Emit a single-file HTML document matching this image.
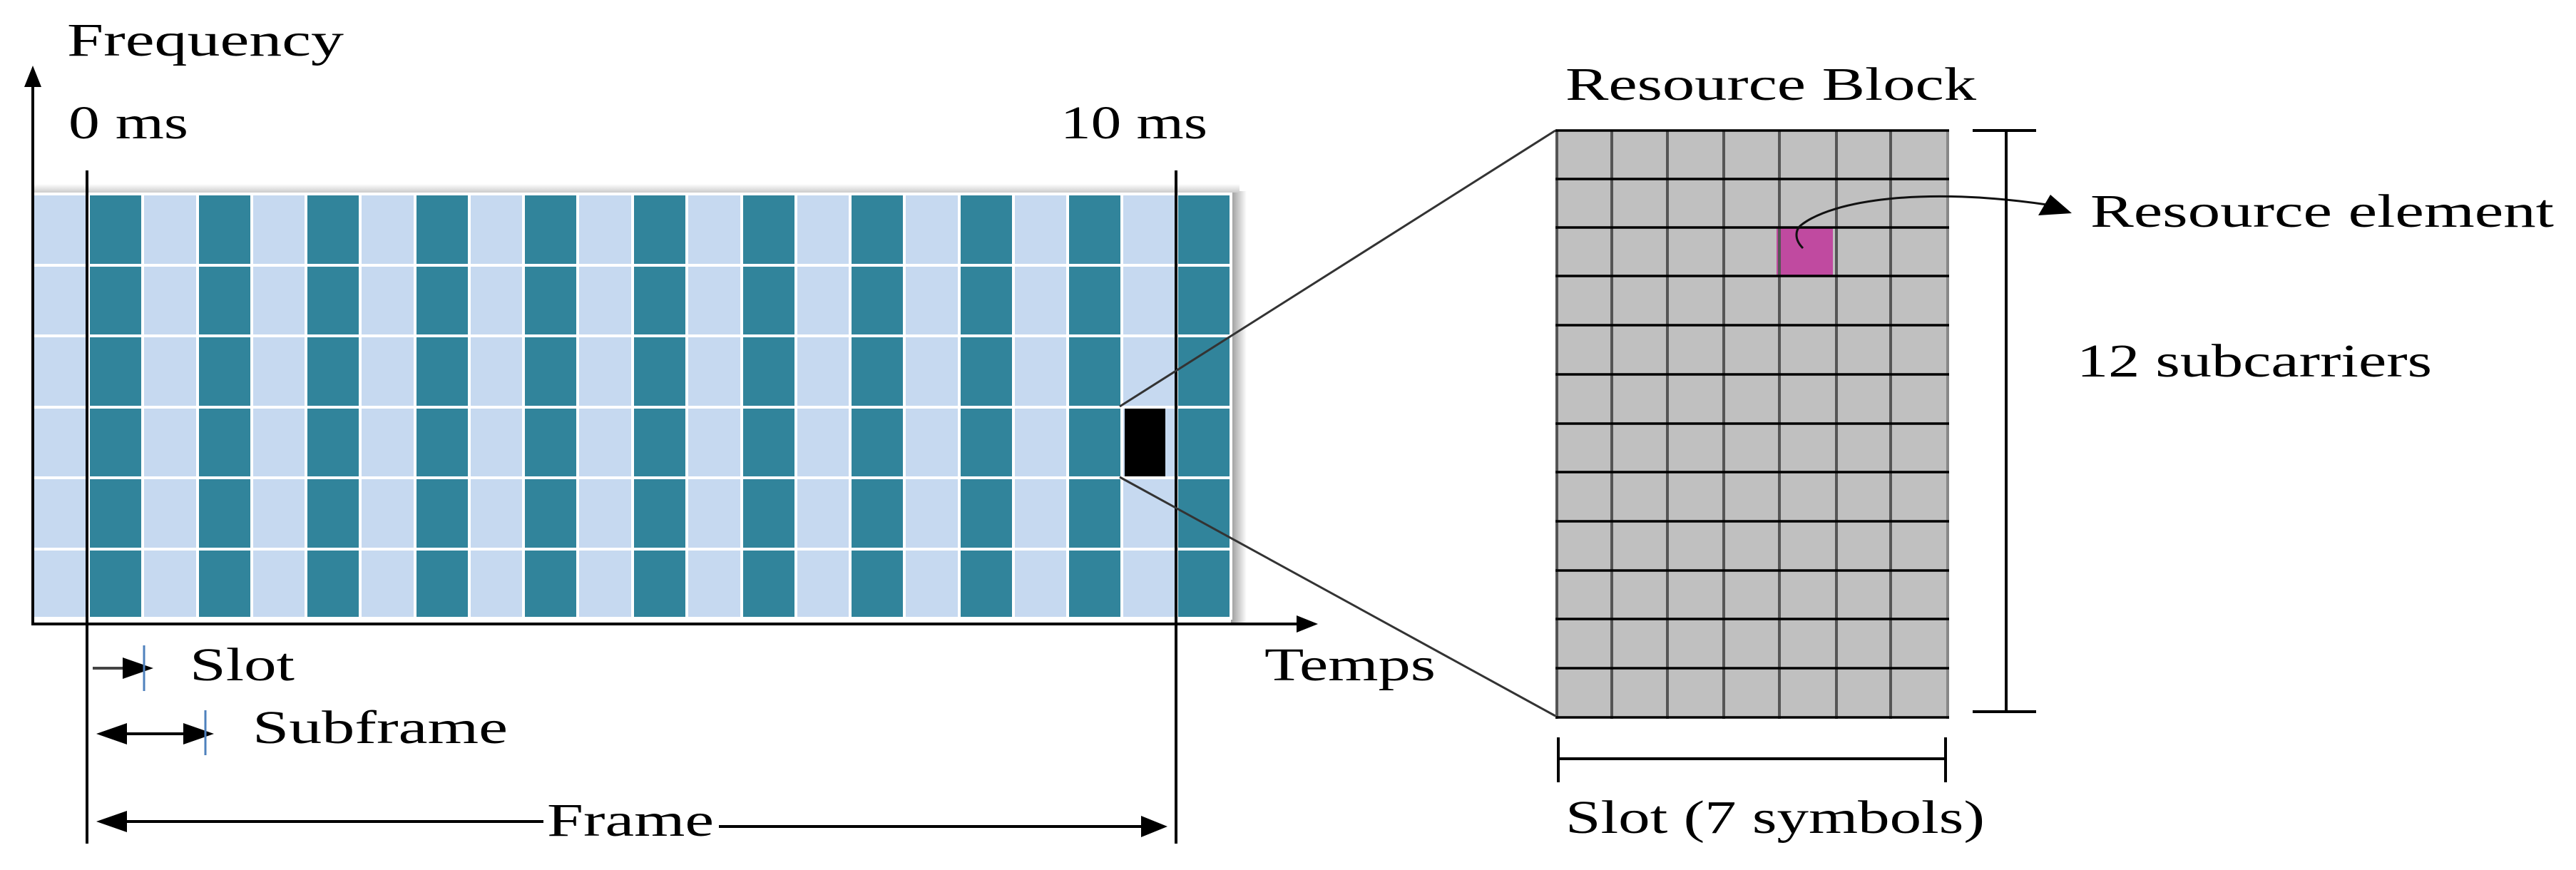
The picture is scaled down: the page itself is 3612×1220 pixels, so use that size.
<!DOCTYPE html>
<html><head><meta charset="utf-8"><style>html,body{margin:0;padding:0;background:#fff}svg{display:block}</style></head>
<body>
<svg width="3612" height="1220" viewBox="0 0 3612 1220" xmlns="http://www.w3.org/2000/svg">
<defs>
<linearGradient id="sh" x1="0" x2="1"><stop offset="0" stop-color="#999"/><stop offset="1" stop-color="#fff"/></linearGradient>
<linearGradient id="sht" x1="0" y1="1" x2="0" y2="0"><stop offset="0" stop-color="#ccc"/><stop offset="1" stop-color="#fff"/></linearGradient>
</defs>
<rect x="1726" y="268" width="22" height="605" fill="url(#sh)"/>
<rect x="48" y="258" width="1690" height="12" fill="url(#sht)"/>
<rect x="48" y="270" width="1678" height="597" fill="#c6d9f0"/>
<g fill="#31849b">
<rect x="124" y="270" width="76" height="597"/><rect x="277" y="270" width="76" height="597"/><rect x="429" y="270" width="76" height="597"/><rect x="582" y="270" width="76" height="597"/><rect x="734" y="270" width="76" height="597"/><rect x="887" y="270" width="76" height="597"/><rect x="1040" y="270" width="76" height="597"/><rect x="1192" y="270" width="76" height="597"/><rect x="1345" y="270" width="76" height="597"/><rect x="1497" y="270" width="76" height="597"/><rect x="1650" y="270" width="76" height="597"/>
</g>
<g stroke="#fff" stroke-width="4">
<line x1="124" y1="270" x2="124" y2="867"/><line x1="200" y1="270" x2="200" y2="867"/><line x1="277" y1="270" x2="277" y2="867"/><line x1="353" y1="270" x2="353" y2="867"/><line x1="429" y1="270" x2="429" y2="867"/><line x1="505" y1="270" x2="505" y2="867"/><line x1="582" y1="270" x2="582" y2="867"/><line x1="658" y1="270" x2="658" y2="867"/><line x1="734" y1="270" x2="734" y2="867"/><line x1="810" y1="270" x2="810" y2="867"/><line x1="887" y1="270" x2="887" y2="867"/><line x1="963" y1="270" x2="963" y2="867"/><line x1="1040" y1="270" x2="1040" y2="867"/><line x1="1116" y1="270" x2="1116" y2="867"/><line x1="1192" y1="270" x2="1192" y2="867"/><line x1="1268" y1="270" x2="1268" y2="867"/><line x1="1345" y1="270" x2="1345" y2="867"/><line x1="1421" y1="270" x2="1421" y2="867"/><line x1="1497" y1="270" x2="1497" y2="867"/><line x1="1573" y1="270" x2="1573" y2="867"/><line x1="1650" y1="270" x2="1650" y2="867"/><line x1="1726" y1="270" x2="1726" y2="867"/>
<line x1="48" y1="272" x2="1728" y2="272"/><line x1="48" y1="372" x2="1728" y2="372"/><line x1="48" y1="471" x2="1728" y2="471"/><line x1="48" y1="571" x2="1728" y2="571"/><line x1="48" y1="670" x2="1728" y2="670"/><line x1="48" y1="770" x2="1728" y2="770"/><line x1="48" y1="867" x2="1728" y2="867"/>
</g>
<rect x="1577" y="573" width="57" height="95" fill="#000"/>
<line x1="46" y1="112" x2="46" y2="877" stroke="#000" stroke-width="4"/>
<polygon points="46,92 34,122 58,122" fill="#000"/>
<line x1="44" y1="875" x2="1825" y2="875" stroke="#000" stroke-width="4"/>
<polygon points="1848,875 1818,863 1818,887" fill="#000"/>
<line x1="122" y1="239" x2="122" y2="1183" stroke="#000" stroke-width="4"/>
<line x1="1649" y1="239" x2="1649" y2="1183" stroke="#000" stroke-width="4"/>
<line x1="1570" y1="570" x2="2181" y2="183" stroke="#333" stroke-width="3"/>
<line x1="1570" y1="669" x2="2181" y2="1004" stroke="#333" stroke-width="3"/>
<line x1="130" y1="937" x2="190" y2="937" stroke="#444" stroke-width="4"/>
<polygon points="215,937 172,922 172,952" fill="#000"/>
<line x1="202" y1="905" x2="202" y2="969" stroke="#4f81bd" stroke-width="3"/>
<line x1="150" y1="1029" x2="280" y2="1029" stroke="#000" stroke-width="4"/>
<polygon points="135,1029 178,1014 178,1044" fill="#000"/>
<polygon points="300,1029 257,1014 257,1044" fill="#000"/>
<line x1="288" y1="996" x2="288" y2="1059" stroke="#4f81bd" stroke-width="3"/>
<line x1="150" y1="1152" x2="762" y2="1152" stroke="#000" stroke-width="4"/>
<line x1="1008" y1="1159" x2="1615" y2="1159" stroke="#000" stroke-width="4"/>
<polygon points="135,1152 178,1137 178,1167" fill="#000"/>
<polygon points="1637,1159 1600,1144 1600,1174" fill="#000"/>
<rect x="2181" y="183" width="552" height="823" fill="#c0c0c0"/>
<rect x="2491" y="319" width="79" height="68" fill="#c04aa0"/>
<g stroke="#555" stroke-width="4">
<line x1="2183" y1="183" x2="2183" y2="1008"/><line x1="2260" y1="183" x2="2260" y2="1008"/><line x1="2338" y1="183" x2="2338" y2="1008"/><line x1="2417" y1="183" x2="2417" y2="1008"/><line x1="2495" y1="183" x2="2495" y2="1008"/><line x1="2575" y1="183" x2="2575" y2="1008"/><line x1="2651" y1="183" x2="2651" y2="1008"/><line x1="2731" y1="183" x2="2731" y2="1008" stroke="#888"/>
</g>
<g stroke="#000" stroke-width="3.5">
<line x1="2181" y1="183" x2="2733" y2="183"/><line x1="2181" y1="251" x2="2733" y2="251"/><line x1="2181" y1="319" x2="2733" y2="319"/><line x1="2181" y1="387" x2="2733" y2="387"/><line x1="2181" y1="456" x2="2733" y2="456"/><line x1="2181" y1="525" x2="2733" y2="525"/><line x1="2181" y1="594" x2="2733" y2="594"/><line x1="2181" y1="662" x2="2733" y2="662"/><line x1="2181" y1="731" x2="2733" y2="731"/><line x1="2181" y1="800" x2="2733" y2="800"/><line x1="2181" y1="868" x2="2733" y2="868"/><line x1="2181" y1="937" x2="2733" y2="937"/><line x1="2181" y1="1006" x2="2733" y2="1006"/>
</g>
<path d="M2528,348 C2515,335 2518,322 2525,316 C2570,280 2700,262 2870,287" fill="none" stroke="#111" stroke-width="3"/>
<polygon points="2905,299 2858,302 2875,273" fill="#000"/>
<line x1="2813" y1="183" x2="2813" y2="998" stroke="#000" stroke-width="4"/>
<line x1="2766" y1="183" x2="2855" y2="183" stroke="#000" stroke-width="4"/>
<line x1="2766" y1="998" x2="2855" y2="998" stroke="#000" stroke-width="4"/>
<line x1="2185" y1="1064" x2="2728" y2="1064" stroke="#000" stroke-width="4"/>
<line x1="2185" y1="1034" x2="2185" y2="1097" stroke="#000" stroke-width="4"/>
<line x1="2728" y1="1034" x2="2728" y2="1097" stroke="#000" stroke-width="4"/>
<g font-family="Liberation Serif, DejaVu Serif, serif" font-size="66" fill="#000">
<text x="94" y="78" textLength="388" lengthAdjust="spacingAndGlyphs">Frequency</text>
<text x="96" y="194" textLength="168" lengthAdjust="spacingAndGlyphs">0 ms</text>
<text x="1487" y="194" textLength="206" lengthAdjust="spacingAndGlyphs">10 ms</text>
<text x="266" y="954" textLength="147" lengthAdjust="spacingAndGlyphs">Slot</text>
<text x="354" y="1042" textLength="358" lengthAdjust="spacingAndGlyphs">Subframe</text>
<text x="767" y="1172" textLength="234" lengthAdjust="spacingAndGlyphs">Frame</text>
<text x="1773" y="954" textLength="240" lengthAdjust="spacingAndGlyphs">Temps</text>
<text x="2195" y="140" textLength="576" lengthAdjust="spacingAndGlyphs">Resource Block</text>
<text x="2931" y="318" textLength="650" lengthAdjust="spacingAndGlyphs">Resource element</text>
<text x="2912" y="528" textLength="498" lengthAdjust="spacingAndGlyphs">12 subcarriers</text>
<text x="2195" y="1168" textLength="588" lengthAdjust="spacingAndGlyphs">Slot (7 symbols)</text>
</g>
</svg>
</body></html>
